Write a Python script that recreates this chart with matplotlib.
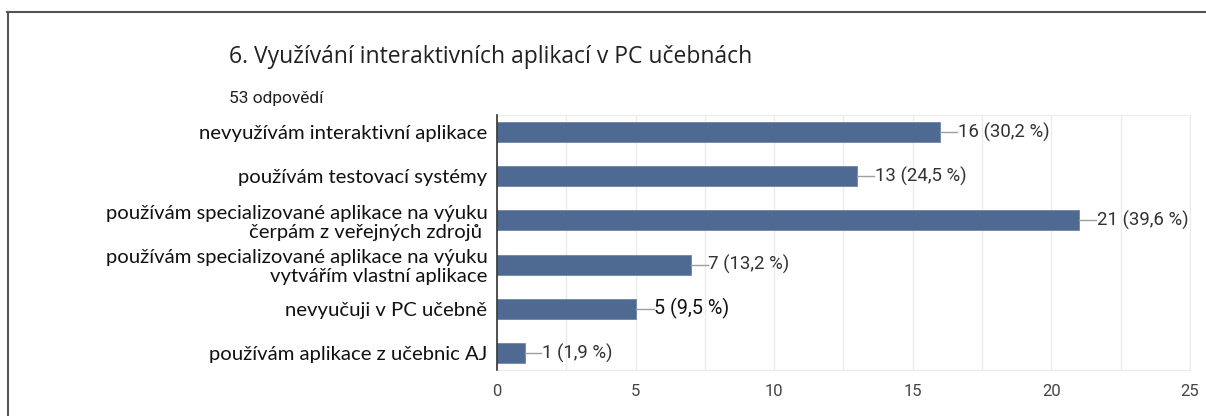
import numpy as np
import matplotlib
matplotlib.use("Agg")
import matplotlib.pyplot as plt
from matplotlib.lines import Line2D
from matplotlib.ticker import MultipleLocator

title = "6. Využívání interaktivních aplikací v PC učebnách"
subtitle = "53 odpovědí"
categories = [
    "nevyužívám interaktivní aplikace",
    "používám testovací systémy",
    "používám specializované aplikace na výuku\nčerpám z veřejných zdrojů ",
    "používám specializované aplikace na výuku\nvytvářím vlastní aplikace",
    "nevyučuji v PC učebně",
    "používám aplikace z učebnic AJ",
]
counts = [16, 13, 21, 7, 5, 1]
value_labels = ["16 (30,2 %)", "13 (24,5 %)", "21 (39,6 %)", "7 (13,2 %)",
                "5 (9,5 %)", "1 (1,9 %)"]

bar_col = "#4f6a92"

fig = plt.figure(figsize=(12.06, 4.16), dpi=100)
ax = fig.add_axes([0.4121, 0.1106, 0.5746, 0.6130])

y = np.arange(len(categories))
ax.barh(y, counts, height=0.455, color=bar_col, edgecolor="#6f86aa", linewidth=0.6, zorder=3)
ax.set_ylim(len(categories) - 1 + 0.386, -0.386)
ax.set_xlim(0, 25)

ax.xaxis.set_major_locator(MultipleLocator(5))
ax.xaxis.set_minor_locator(MultipleLocator(2.5))
ax.grid(axis="x", which="both", color="#ebebeb", linewidth=1, zorder=0)
ax.set_yticks(y)
ax.set_yticklabels(categories, family=["Lato", "DejaVu Sans"], fontsize=14.6,
                   color="#111111", linespacing=1.12)
ax.tick_params(axis="y", length=0, pad=7)
ax.tick_params(axis="x", which="both", length=0, pad=10, labelsize=12, labelcolor="#444444")
for lab in ax.get_xticklabels():
    lab.set_family(["Roboto", "DejaVu Sans"])

for s in ["top", "right", "bottom"]:
    ax.spines[s].set_color("#ebebeb")
ax.spines["left"].set_color("#333333")
ax.spines["left"].set_linewidth(1.2)
ax.spines["left"].set_zorder(4)

# leader lines + value labels
for i, (c, t) in enumerate(zip(counts, value_labels)):
    big = t.startswith("5 ")
    gap = 0.65 if big else 0.6
    ax.plot([c, c + gap], [i, i], color="#9e9e9e", linewidth=1, zorder=3, clip_on=False)
    ax.text(c + gap + 0.03, i, t, va="center", ha="left",
            fontsize=14.2 if big else 13.4, color="#111111" if big else "#333333",
            family=["Roboto", "DejaVu Sans"])

fig.text(229 / 1206, 1 - 57 / 416, title, fontsize=16.5, color="#212121",
         va="center", ha="left", family=["Open Sans", "DejaVu Sans"])
fig.text(229 / 1206, 1 - 98 / 416, subtitle, fontsize=12.5, color="#212121",
         va="center", ha="left", family=["Roboto", "DejaVu Sans"])

# outer frame (top and left)
fig.add_artist(Line2D([7 / 1206, 1], [1 - 12 / 416, 1 - 12 / 416],
                      transform=fig.transFigure, color="#555555", linewidth=1.5))
fig.add_artist(Line2D([8 / 1206, 8 / 1206], [0, 1 - 12 / 416],
                      transform=fig.transFigure, color="#555555", linewidth=1.5))

fig.savefig("out.png", dpi=100)
